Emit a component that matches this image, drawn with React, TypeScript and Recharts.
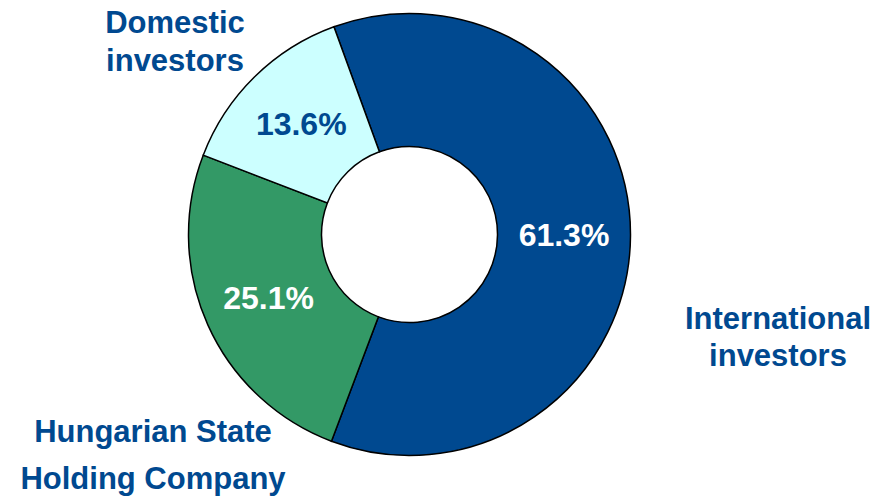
import React from 'react';
import { PieChart, Pie, Cell } from 'recharts';

const categories = ['International investors', 'Hungarian State Holding Company', 'Domestic investors'];
const shares = [61.3, 25.1, 13.6];
const nameLines = [
  ['International', 'investors'],
  ['Hungarian State', 'Holding Company'],
  ['Domestic', 'investors'],
];

const COLORS = ['#004990', '#339966', '#CCFFFF'];
const PCT_COLORS = ['#FFFFFF', '#FFFFFF', '#004990'];
const TEXT_BLUE = '#004990';
const FONT = '"Liberation Sans", Arial, sans-serif';

// where the category names sit (centre x, first baseline, line gap)
const NAME_POS = [
  { x: 778, y: 329, gap: 37 },
  { x: 153, y: 442, gap: 47 },
  { x: 175, y: 33, gap: 38 },
];

const data = categories.map((name, i) => ({ name, value: shares[i] }));

const renderLabel = (props: any) => {
  const { cx, cy, midAngle, innerRadius, outerRadius, index, value } = props;
  const RAD = Math.PI / 180;
  const r = (innerRadius + outerRadius) / 2;
  const x = cx + r * Math.cos(-midAngle * RAD);
  const y = cy + r * Math.sin(-midAngle * RAD);
  const pos = NAME_POS[index];
  return (
    <g>
      <text
        x={x}
        y={y}
        textAnchor="middle"
        dominantBaseline="central"
        fill={PCT_COLORS[index]}
        fontFamily={FONT}
        fontWeight="bold"
        fontSize={32}
      >
        {value.toFixed(1)}%
      </text>
      {nameLines[index].map((line, j) => (
        <text
          key={j}
          x={pos.x}
          y={pos.y + j * pos.gap}
          textAnchor="middle"
          fill={TEXT_BLUE}
          fontFamily={FONT}
          fontWeight="bold"
          fontSize={31}
        >
          {line}
        </text>
      ))}
    </g>
  );
};

const App: React.FC = () => {
  return (
    <div style={{ position: 'absolute', left: 0, top: 0, width: 882, height: 499, background: '#fff' }}>
      <PieChart width={882} height={499} margin={{ top: 0, right: 0, bottom: 0, left: 0 }}>
        <Pie
          data={data}
          dataKey="value"
          nameKey="name"
          cx={409.5}
          cy={234.5}
          innerRadius={88}
          outerRadius={221}
          startAngle={110}
          endAngle={-250}
          stroke="#000"
          strokeWidth={1.5}
          label={renderLabel}
          labelLine={false}
          isAnimationActive={false}
        >
          {data.map((entry, i) => (
            <Cell key={`cell-${i}`} fill={COLORS[i]} />
          ))}
        </Pie>
      </PieChart>
    </div>
  );
};

export default App;
